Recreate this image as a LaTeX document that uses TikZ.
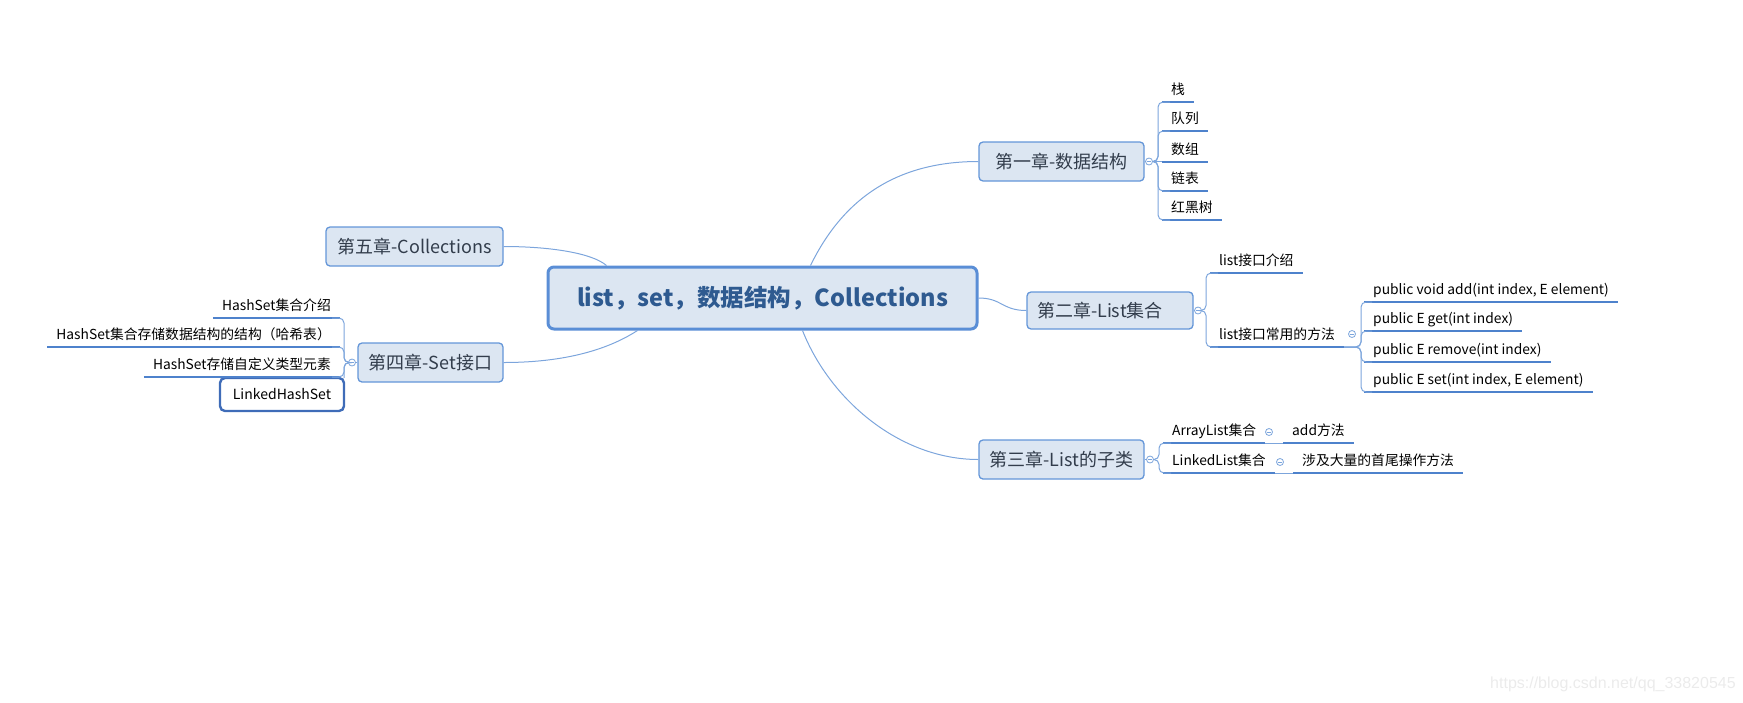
\documentclass[tikz,border=0pt]{standalone}
\usepackage{fontspec}
\setmainfont{Noto Sans CJK SC}
\newfontfamily\wmfont{Liberation Sans}
\usetikzlibrary{calc}
\definecolor{boxfill}{HTML}{DCE6F2}
\definecolor{boxline}{HTML}{6496D8}
\definecolor{rootline}{HTML}{5A8ED6}
\definecolor{roottext}{HTML}{2E5A90}
\definecolor{chaptext}{HTML}{323D4C}
\definecolor{connc}{HTML}{7CA5DC}
\definecolor{ulinec}{HTML}{4E82CC}
\definecolor{selblue}{HTML}{3F6CB8}
\definecolor{wmc}{HTML}{EBEBEB}
\begin{document}
\begin{tikzpicture}[x=1pt,y=-1pt,
  rootbox/.style={draw=rootline, line width=3pt, fill=boxfill, rounded corners=6pt,
    font=\bfseries\fontsize{23.5}{26}\selectfont, text=roottext, inner sep=0pt},
  chap/.style={draw=boxline, line width=1.3pt, fill=boxfill, rounded corners=4pt,
    font=\fontsize{18}{21}\selectfont, text=chaptext, inner sep=0pt, minimum height=39pt},
  leaf/.style={inner xsep=9pt, inner ysep=4pt, text height=11pt, text depth=3pt,
    font=\fontsize{13.8}{16}\selectfont, text=black},
  selbox/.style={draw=selblue, line width=2.4pt, fill=white, rounded corners=5pt,
    font=\fontsize{14}{16}\selectfont, text=black, inner sep=0pt},
  conn/.style={draw=connc, line width=1pt},
  uline/.style={draw=ulinec, line width=2pt},
  btn/.style={circle, draw=connc, fill=white, line width=0.8pt, minimum size=7pt, inner sep=0pt,
    path picture={\draw[connc, line width=0.8pt] ([xshift=-2pt]path picture bounding box.center) -- ([xshift=2pt]path picture bounding box.center);}}
]
\useasboundingbox (0,0) rectangle (1743,702);

% root
\node[rootbox, minimum width=429pt, minimum height=62pt] (root) at (762.5,298) {list，set，数据结构，Collections};

% chapters
\node[chap, minimum width=165pt] (c1) at (1061.5,161.5) {第一章-数据结构};
\node[chap, minimum height=37pt, inner xsep=10pt, text width=146pt, align=left] (c2) at (1110,310.5) {第二章-List集合};
\node[chap, minimum width=165pt] (c3) at (1061.5,459.5) {第三章-List的子类};
\node[chap, minimum width=145pt] (c4) at (430.5,362.5) {第四章-Set接口};
\node[chap, minimum width=177pt] (c5) at (414.5,246.5) {第五章-Collections};

% collapse buttons
\node[btn] (b1) at (1149,161.5) {};
\node[btn] (b2) at (1198,310.5) {};
\node[btn] (b3) at (1150,459.5) {};
\node[btn] (b4) at (352,362.5) {};

% chapter 1 leaves
\node[leaf, anchor=south west] (l11) at (1162,102) {栈};
\node[leaf, anchor=south west] (l12) at (1162,131) {队列};
\node[leaf, anchor=south west] (l13) at (1162,161.5) {数组};
\node[leaf, anchor=south west] (l14) at (1162,191) {链表};
\node[leaf, anchor=south west] (l15) at (1162,220) {红黑树};

% chapter 2 leaves
\node[leaf, anchor=south west] (l21) at (1210,273) {list接口介绍};
\node[leaf, anchor=south west] (l22) at (1210,347) {list接口常用的方法};
\node[btn] (b22) at (1352,334) {};
\node[leaf, anchor=south west] (m1) at (1364,302) {public void add(int index, E element)};
\node[leaf, anchor=south west] (m2) at (1364,331) {public E get(int index)};
\node[leaf, anchor=south west] (m3) at (1364,362) {public E remove(int index)};
\node[leaf, anchor=south west] (m4) at (1364,392) {public E set(int index, E element)};

% chapter 3 leaves
\node[leaf, anchor=south west] (l31) at (1163,443) {ArrayList集合};
\node[leaf, anchor=south west] (l32) at (1163,473) {LinkedList集合};
\node[btn] (b31) at (1269,432) {};
\node[btn] (b32) at (1280,462) {};
\node[leaf, anchor=south west] (l311) at (1283,443) {add方法};
\node[leaf, anchor=south west] (l321) at (1293,473) {涉及大量的首尾操作方法};

% chapter 4 leaves
\node[leaf, anchor=south east] (l41) at (340,318) {HashSet集合介绍};
\node[leaf, anchor=south east] (l42) at (340,347) {HashSet集合存储数据结构的结构（哈希表）};
\node[leaf, anchor=south east] (l43) at (340,377) {HashSet存储自定义类型元素};
\node[selbox, minimum width=124pt, minimum height=33pt] (l44) at (282,394.5) {LinkedHashSet};

% underlines
\foreach \n in {l11,l12,l13,l14,l15,l21,l22,m1,m2,m3,m4,l31,l32,l311,l321,l41,l42,l43}
  \draw[uline] (\n.south west) -- (\n.south east);

% root connectors
\draw[conn] ($(root.north west)+(264,0)$) .. controls (840,205) and (890,161.5) .. (c1.west);
\draw[conn] (root.east) .. controls (1002,298) and (1002,310.5) .. (c2.west);
\draw[conn] ($(root.south west)+(256,0)$) .. controls (830,400) and (900,459.5) .. (c3.west);
\draw[conn] (c5.east) .. controls (550,246.5) and (592,253) .. ($(root.north west)+(60,0)$);
\draw[conn] (c4.east) .. controls (575,362.5) and (615,345) .. ($(root.south west)+(91,0)$);

% box to button
\draw[conn] (c1.east) -- (b1.west);
\draw[conn] (c2.east) -- (b2.west);
\draw[conn] (c3.east) -- (b3.west);
\draw[conn] (c4.west) -- (b4.east);

% chapter 1 brackets
\foreach \n in {l11,l12,l14,l15}
  \draw[conn, rounded corners=5pt] (b1.east) -- (1158,161.5) |- ([xshift=8pt]\n.south west);
\draw[conn] (b1.east) -- (l13.south west);

% chapter 2 brackets
\foreach \n in {l21,l22}
  \draw[conn, rounded corners=5pt] (b2.east) -- (1206,310.5) |- ([xshift=8pt]\n.south west);
\foreach \n in {m1,m2,m3,m4}
  \draw[conn, rounded corners=5pt] (l22.south east) -- (1361,347) |- ([xshift=8pt]\n.south west);

% chapter 3 brackets
\foreach \n in {l31,l32}
  \draw[conn, rounded corners=5pt] (b3.east) -- (1159,459.5) |- ([xshift=8pt]\n.south west);
\draw[conn] (l31.south east) -- (l311.south west);
\draw[conn] (l32.south east) -- (l321.south west);

% chapter 4 brackets
\foreach \n in {l41,l42,l43}
  \draw[conn, rounded corners=5pt] (b4.west) -- (344,362.5) |- ([xshift=-8pt]\n.south east);
\draw[conn, rounded corners=5pt] (b4.west) -- (344,362.5) -- ([xshift=-1pt,yshift=-1pt]l44.north east);

% watermark
\node[anchor=west, text=wmc, font=\wmfont\fontsize{16}{18}\selectfont, inner sep=0pt] (wm) at (1490,684) {https://blog.csdn.net/qq\_33820545};
\end{tikzpicture}
\end{document}
